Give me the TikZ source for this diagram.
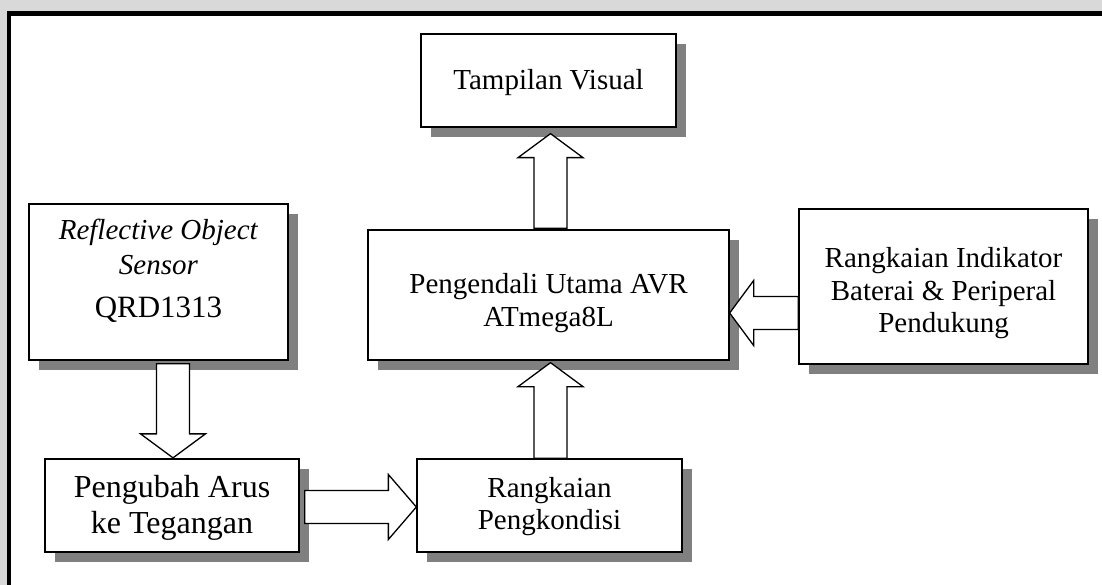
\documentclass[tikz,border=0pt]{standalone}
\usepackage{fontspec}
\setmainfont{Liberation Serif}
\usetikzlibrary{calc,shadows}

\definecolor{shadowgray}{HTML}{808080}
\definecolor{bandgray}{HTML}{D9D9D9}

\tikzset{
  blk/.style={draw=black, line width=1.3pt, fill=white, inner sep=0pt,
    drop shadow={shadow xshift=10pt, shadow yshift=-10pt, fill=shadowgray, opacity=1}},
  txt/.style={align=center, inner sep=0pt, font=\fontsize{29}{32.5}\selectfont},
  hollow/.style={draw=black, line width=1.3pt, fill=white, line join=miter},
}

% Hollow block arrow: [head length]{tail}{tip}
\newcommand\hollowarrow[3][24pt]{%
  \coordinate (ha-tail) at #2;
  \coordinate (ha-tip) at #3;
  \coordinate (ha-base) at ($(ha-tip)!#1!(ha-tail)$);
  \draw[hollow]
    ($(ha-tail)!16.5pt!90:(ha-tip)$) -- ($(ha-base)!16.5pt!90:(ha-tip)$)
    -- ($(ha-base)!32.5pt!90:(ha-tip)$) -- (ha-tip)
    -- ($(ha-base)!32.5pt!-90:(ha-tip)$) -- ($(ha-base)!16.5pt!-90:(ha-tip)$)
    -- ($(ha-tail)!16.5pt!-90:(ha-tip)$) -- cycle;
}

\begin{document}
\begin{tikzpicture}[x=1pt, y=-1pt]
  \useasboundingbox (0,0) rectangle (1102,585);

  % page margin band and outer frame
  \fill[bandgray] (0,0) rectangle (1102,11);
  \fill[bandgray] (0,0) rectangle (6.7,585);
  \draw[line width=4.5pt, line join=miter] (8.8,585) -- (8.8,13.3) -- (1102,13.3);

  % blocks
  \node[blk, minimum width=255pt, minimum height=93pt] (tv) at (548.5,80.5) {};
  \node[blk, minimum width=259pt, minimum height=156pt] (ref) at (158.5,282) {};
  \node[blk, minimum width=361pt, minimum height=130pt] (pu) at (548.5,295) {};
  \node[blk, minimum width=289pt, minimum height=155pt] (ri) at (943.5,286.5) {};
  \node[blk, minimum width=254pt, minimum height=93pt] (pa) at (172,505.5) {};
  \node[blk, minimum width=265pt, minimum height=93pt] (rp) at (549.5,505.5) {};

  % block texts
  \node[txt] (tv-text) at ($(tv.center)+(0,2)$) {Tampilan Visual};
  \node[txt, font=\fontsize{29}{35}\selectfont] (ref-text) at ($(ref.center)+(0,-11)$)
    {\textit{Reflective Object}\\\textit{Sensor}\\[8pt]{\fontsize{31}{34}\selectfont QRD1313}};
  \node[txt] (pu-text) at ($(pu.center)+(0,8)$) {Pengendali Utama AVR\\ATmega8L};
  \node[txt] (ri-text) at ($(ri.center)+(0,7)$) {Rangkaian Indikator\\Baterai \& Periperal\\Pendukung};
  \node[txt, font=\fontsize{32}{36}\selectfont] (pa-text) at ($(pa.center)+(0,2)$) {Pengubah Arus\\ke Tegangan};
  \node[txt] (rp-text) at ($(rp.center)+(0,1)$) {Rangkaian\\Pengkondisi};

  % block arrows
  \hollowarrow{($(pu.north)+(2,-1)$)}{($(tv.south)+(2,6)$)}
  \hollowarrow{($(rp.north)+(1,0)$)}{($(pu.south)+(2,2)$)}
  \hollowarrow{($(ref.south)+(14.5,3)$)}{($(pa.north)+(1,-0.5)$)}
  \hollowarrow[28pt]{($(pa.east)+(5,1.5)$)}{($(rp.west)+(0,1.5)$)}
  \hollowarrow{($(ri.west)+(0,26.5)$)}{($(pu.east)+(0,18)$)}
\end{tikzpicture}
\end{document}
